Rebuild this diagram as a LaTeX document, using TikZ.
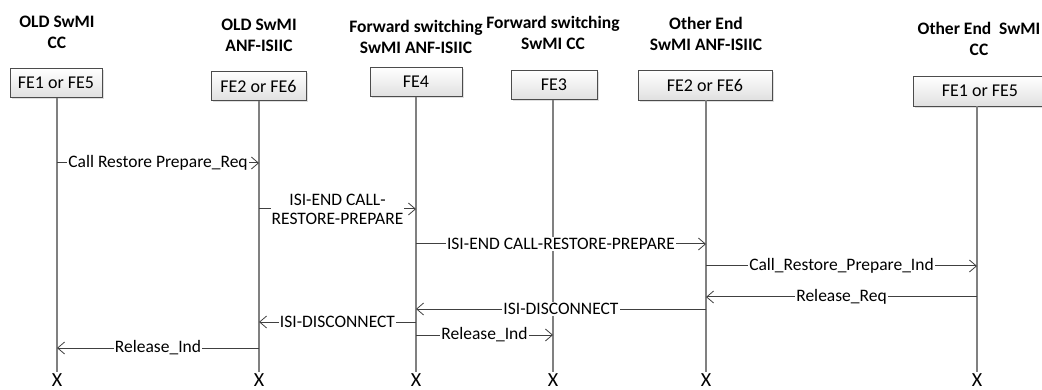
\documentclass[tikz,border=0pt]{standalone}
\usepackage{fontspec}
\setmainfont{Carlito}
\usetikzlibrary{arrows.meta,shadows}
\begin{document}
\begin{tikzpicture}[x=1pt,y=-1pt,
  title/.style={font=\fontsize{17.5}{21}\selectfont\bfseries, align=center, text=black, inner sep=0pt},
  fe/.style={draw=black!70, line width=0.8pt, top color=white, bottom color=black!12,
     font=\fontsize{18}{20}\selectfont, inner sep=0pt,
     drop shadow={shadow xshift=2pt,shadow yshift=-2pt,opacity=0.25}},
  life/.style={draw=black!50, line width=1.8pt},
  msg/.style={draw=black!75, line width=1pt, -{Straight Barb[length=7pt,width=12pt,line width=0.8pt]}},
  lbl/.style={fill=white, inner sep=1pt, font=\fontsize{17.5}{19}\selectfont, align=center},
  xm/.style={font=\fontsize{20}{22}\selectfont, inner sep=0pt}
]
\useasboundingbox (0,0) rectangle (1042,390);
% titles
\node[title] (t1) at (57,32) {OLD SwMI\\CC};
\node[title] (t2) at (259,35) {OLD SwMI\\ANF-ISIIC};
\node[title] (t3) at (416,37) {Forward switching\\SwMI ANF-ISIIC};
\node[title] (t4) at (553,33) {Forward switching\\SwMI CC};
\node[title] (t5) at (706,34) {Other End\\SwMI ANF-ISIIC};
\node[title] (t6) at (979,39) {Other End\ \ SwMI\\CC};
% boxes
\node[fe, minimum width=92pt, minimum height=29pt] (a) at (56,83) {FE1 or FE5};
\node[fe, minimum width=95pt, minimum height=29pt] (b) at (258.5,86) {FE2 or FE6};
\node[fe, minimum width=92pt, minimum height=29pt] (c) at (416,82) {FE4};
\node[fe, minimum width=86pt, minimum height=29pt] (d) at (554,85) {FE3};
\node[fe, minimum width=134pt, minimum height=30pt] (e) at (705,85) {FE2 or FE6};
\node[fe, minimum width=134pt, minimum height=30pt] (f) at (980,91) {FE1 or FE5};
% lifeline ends
\foreach \n/\x in {a/57,b/259,c/416,d/553,e/706,f/977}{
  \coordinate (\n top) at (\x,90);
  \coordinate (\n end) at (\x,372);
  \coordinate (\n xb) at (\x,386.5);
}
\foreach \n in {a,b,c,d,e,f}{
  \draw[life] (\n.south -| \n top) -- (\n end);
  \node[xm, anchor=base] (\n x) at (\n xb) {X};
}
% messages
\draw[msg] (atop |- 0,163) -- node[lbl]{Call Restore Prepare\_Req} (btop |- 0,163);
\draw[msg] (btop |- 0,209) -- node[lbl]{ISI-END CALL-\\RESTORE-PREPARE} (ctop |- 0,209);
\draw[msg] (ctop |- 0,244) -- node[lbl]{ISI-END CALL-RESTORE-PREPARE} (etop |- 0,244);
\draw[msg] (etop |- 0,266) -- node[lbl]{Call\_Restore\_Prepare\_Ind} (ftop |- 0,266);
\draw[msg] (ftop |- 0,297) -- node[lbl]{Release\_Req} (etop |- 0,297);
\draw[msg] (etop |- 0,309) -- node[lbl]{ISI-DISCONNECT} (ctop |- 0,309);
\draw[msg] (ctop |- 0,322) -- node[lbl]{ISI-DISCONNECT} (btop |- 0,322);
\draw[msg] (ctop |- 0,335) -- node[lbl]{Release\_Ind} (dtop |- 0,335);
\draw[msg] (btop |- 0,348) -- node[lbl]{Release\_Ind} (atop |- 0,348);
\end{tikzpicture}
\end{document}
